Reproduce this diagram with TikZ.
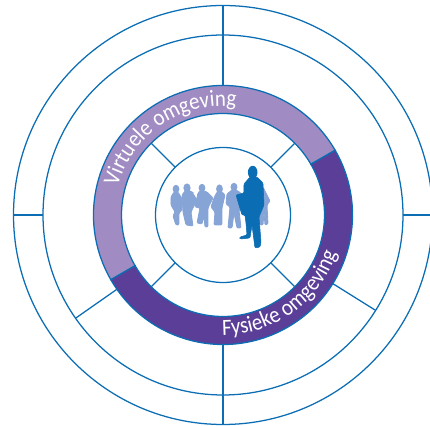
\documentclass[tikz,border=0pt]{standalone}
\usepackage{fontspec}
\newfontfamily\ringfont[FakeStretch=0.9]{Carlito}
\usetikzlibrary{decorations.text}
\definecolor{ringblue}{HTML}{0B6DB3}
\definecolor{lightring}{HTML}{A08CC2}
\definecolor{darkring}{HTML}{5A3E97}
\definecolor{crowd}{HTML}{86A4D6}
\tikzset{
	ringline/.style={line width=0.9pt, color=ringblue},
	crowdfig/.style={fill=crowd, draw=crowd, line width=0.6pt, rounded corners=0.8pt},
	leadfig/.style={fill=ringblue, draw=ringblue, line width=0.4pt, rounded corners=0.8pt},
	ringtext/.style={decoration={text along path, text align=center,
		text={|\ringfont\fontsize{16.5}{16.5}\selectfont\color{white}|#1}}, decorate}
}

\begin{document}
\begin{tikzpicture}[x=0.025cm, y=0.025cm]
	\useasboundingbox (-223, 215) rectangle (207, -211);
	%%%%% RINGS %%%%%
	\draw[ringline] (0, 0) circle (209.5);
	\draw[ringline] (0, 0) circle (180);
	\draw[ringline] (0, 0) circle (67.5);
	
	\draw[ringline, fill=lightring] (30:129.5) arc (30:210:129.5) -- (210:101.5) arc (210:30:101.5) -- cycle;
	\draw[ringline, fill=darkring] (210:129.5) arc (210:390:129.5) -- (30:101.5) arc (390:210:101.5) -- cycle;
	
	%%%%% SPOKES %%%%%
	\draw[ringline] (90:129.5) -- (90:209.5);
	\draw[ringline] (270:129.5) -- (270:209.5);
	\draw[ringline] (180:180) -- (180:209.5);
	\draw[ringline] (0:180) -- (0:209.5);
	\draw[ringline] (215:129.5) -- (215:180);
	\draw[ringline] (328:129.5) -- (328:180);
	\foreach \a in {45, 135, 225, 315}
		\draw[ringline] (\a:67.5) -- (\a:101.5);
	
	%%%%% LABELS %%%%%
	\path[ringtext={Virtuele omgeving}] (171:109) arc (171:77:109);
	\path[ringtext={Fysieke omgeving}] (-96:120) arc (-96:-13:120);
	
	%%%%% PEOPLE %%%%%
	\begin{scope}[shift={(-223, 215)}, yscale=-1]
		\fill[crowd] (176, 189) circle [x radius=3.4, y radius=4.2];
		\draw[crowdfig] (174, 192) -- (178, 192) -- (182, 199) -- (182, 210) -- (179, 213) -- (179, 225) -- (176, 225) -- (173, 216) -- (175, 212) -- (171, 205) -- (171, 197) -- cycle;
		
		\fill[crowd] (187, 188) circle [x radius=3.6, y radius=4.6];
		\draw[crowdfig] (185, 191) -- (190, 191) -- (192, 192) -- (197, 200) -- (191, 212) -- (193, 226) -- (186, 225) -- (183, 212) -- (182, 195) -- cycle;
		
		\fill[crowd] (202, 188) circle [x radius=3.4, y radius=4.2];
		\draw[crowdfig] (200, 191) -- (204, 191) -- (207, 192) -- (213, 198) -- (208, 208) -- (208, 227) -- (205, 227) -- (204, 216) -- (202, 224) -- (197, 223) -- (200, 208) -- (195, 207) -- (198, 193) -- cycle;
		
		\fill[crowd] (219.5, 189) circle [x radius=3.4, y radius=4.6];
		\draw[crowdfig] (217, 192) -- (222, 192) -- (225, 195) -- (222, 208) -- (222, 225) -- (214, 225) -- (215, 212) -- (211, 207) -- (214, 198) -- cycle;
		
		\fill[crowd] (234, 187) circle [x radius=3.5, y radius=4.2];
		\draw[crowdfig] (232, 190) -- (236, 190) -- (241, 193) -- (242, 207) -- (239, 210) -- (241, 228) -- (237, 228) -- (234, 213) -- (232, 228) -- (228, 228) -- (230, 207) -- (226, 204) -- (227, 194) -- cycle;
		
		\draw[crowdfig] (263, 187) -- (270, 201) -- (267, 205) -- (268, 224) -- (265, 225) -- (264, 212) -- (263, 225) -- (260, 225) -- (258, 205) -- cycle;
		
		\fill[ringblue] (252.7, 172.3) circle [x radius=4.8, y radius=6.5];
		\draw[leadfig] (250, 177) -- (257, 177) -- (263, 183) -- (264, 205) -- (259, 217) -- (261, 242) -- (260, 247) -- (255, 248) -- (252, 225) -- (250, 238) -- (240, 239) -- (240, 237) -- (247, 235) -- (246, 223) -- (245, 215) -- (242, 215) -- (236, 195) -- (244, 193) -- (244, 184) -- cycle;
	\end{scope}
\end{tikzpicture}
\end{document}
